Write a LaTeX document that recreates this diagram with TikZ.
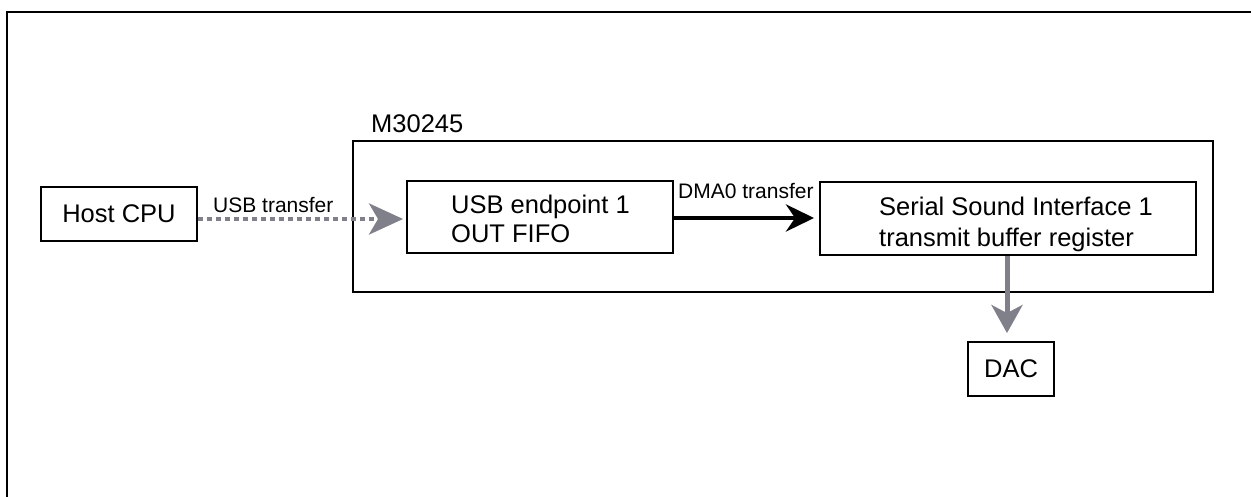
\documentclass[tikz,border=0pt]{standalone}
\usepackage{fontspec}
\setmainfont{Liberation Sans}
\usetikzlibrary{arrows.meta}
\definecolor{arrgray}{RGB}{128,128,138}
\tikzset{
  box/.style={draw=black, line width=1.9pt, inner sep=0pt, fill=white},
  bigtext/.style={inner sep=0pt, font=\fontsize{25.5}{29}\selectfont},
  lbltext/.style={inner sep=0pt, font=\fontsize{21}{25}\selectfont},
  framestyle/.style={draw=black, line width=2.8pt},
  usbarrow/.style={draw=arrgray, line width=4.3pt, dash pattern=on 4.6pt off 4.4pt,
    -{Stealth[length=34pt, width=31pt, inset=9pt]}, shorten >=3pt},
  dmaarrow/.style={draw=black, line width=4.7pt,
    -{Stealth[length=28pt, width=27pt, inset=9pt]}, shorten >=5pt},
  dacarrow/.style={draw=arrgray, line width=5pt,
    -{Stealth[length=28pt, width=31pt, inset=8pt]}, shorten >=8pt}
}
\begin{document}
\begin{tikzpicture}[x=1pt, y=-1pt]
\useasboundingbox (0,0) rectangle (1251,497);
\begin{scope}
\clip (0,0) rectangle (1251,497);
\draw[framestyle] (1270,12) -- (7,12) -- (7,520);
\end{scope}

% M30245 chip box
\node[box, minimum width=860pt, minimum height=151pt] (chip) at (783,216.5) {};
\node[bigtext, anchor=base west] (chiplbl) at (371,133) {M30245};

% Host CPU
\node[box, bigtext, inner sep=0pt, minimum width=156pt, minimum height=54pt] (host) at (119,214) {Host CPU};

% USB endpoint box
\node[box, minimum width=266pt, minimum height=72pt] (usb) at (540,217) {};
\node[bigtext, align=left, anchor=north west, font=\fontsize{25.5}{29}\selectfont] (usbtxt) at (451,195) {USB endpoint 1\\OUT FIFO};

% Serial Sound Interface box
\node[box, minimum width=376pt, minimum height=73pt] (ssi) at (1008,218.5) {};
\node[bigtext, align=left, anchor=north west, font=\fontsize{25.5}{31}\selectfont] (ssitxt) at (879,197) {Serial Sound Interface 1\\transmit buffer register};

% DAC
\node[box, bigtext, inner sep=0pt, minimum width=86pt, minimum height=54pt] (dac) at (1011,369) {DAC};

% connectors
\draw[usbarrow] ([yshift=-5pt]host.east) -- ([yshift=-2pt]usb.west);
\node[lbltext, anchor=base west] (usblbl) at (213,213) {USB transfer};

\draw[dmaarrow] ([yshift=-1pt]usb.east) -- ([yshift=-1pt]usb.east -| ssi.west);
\node[lbltext, anchor=base west] (dmalbl) at (678,199) {DMA0 transfer};

\draw[dacarrow] ([xshift=-1pt]ssi.south) -- ([xshift=-1pt]ssi.south |- dac.north);
\end{tikzpicture}
\end{document}
